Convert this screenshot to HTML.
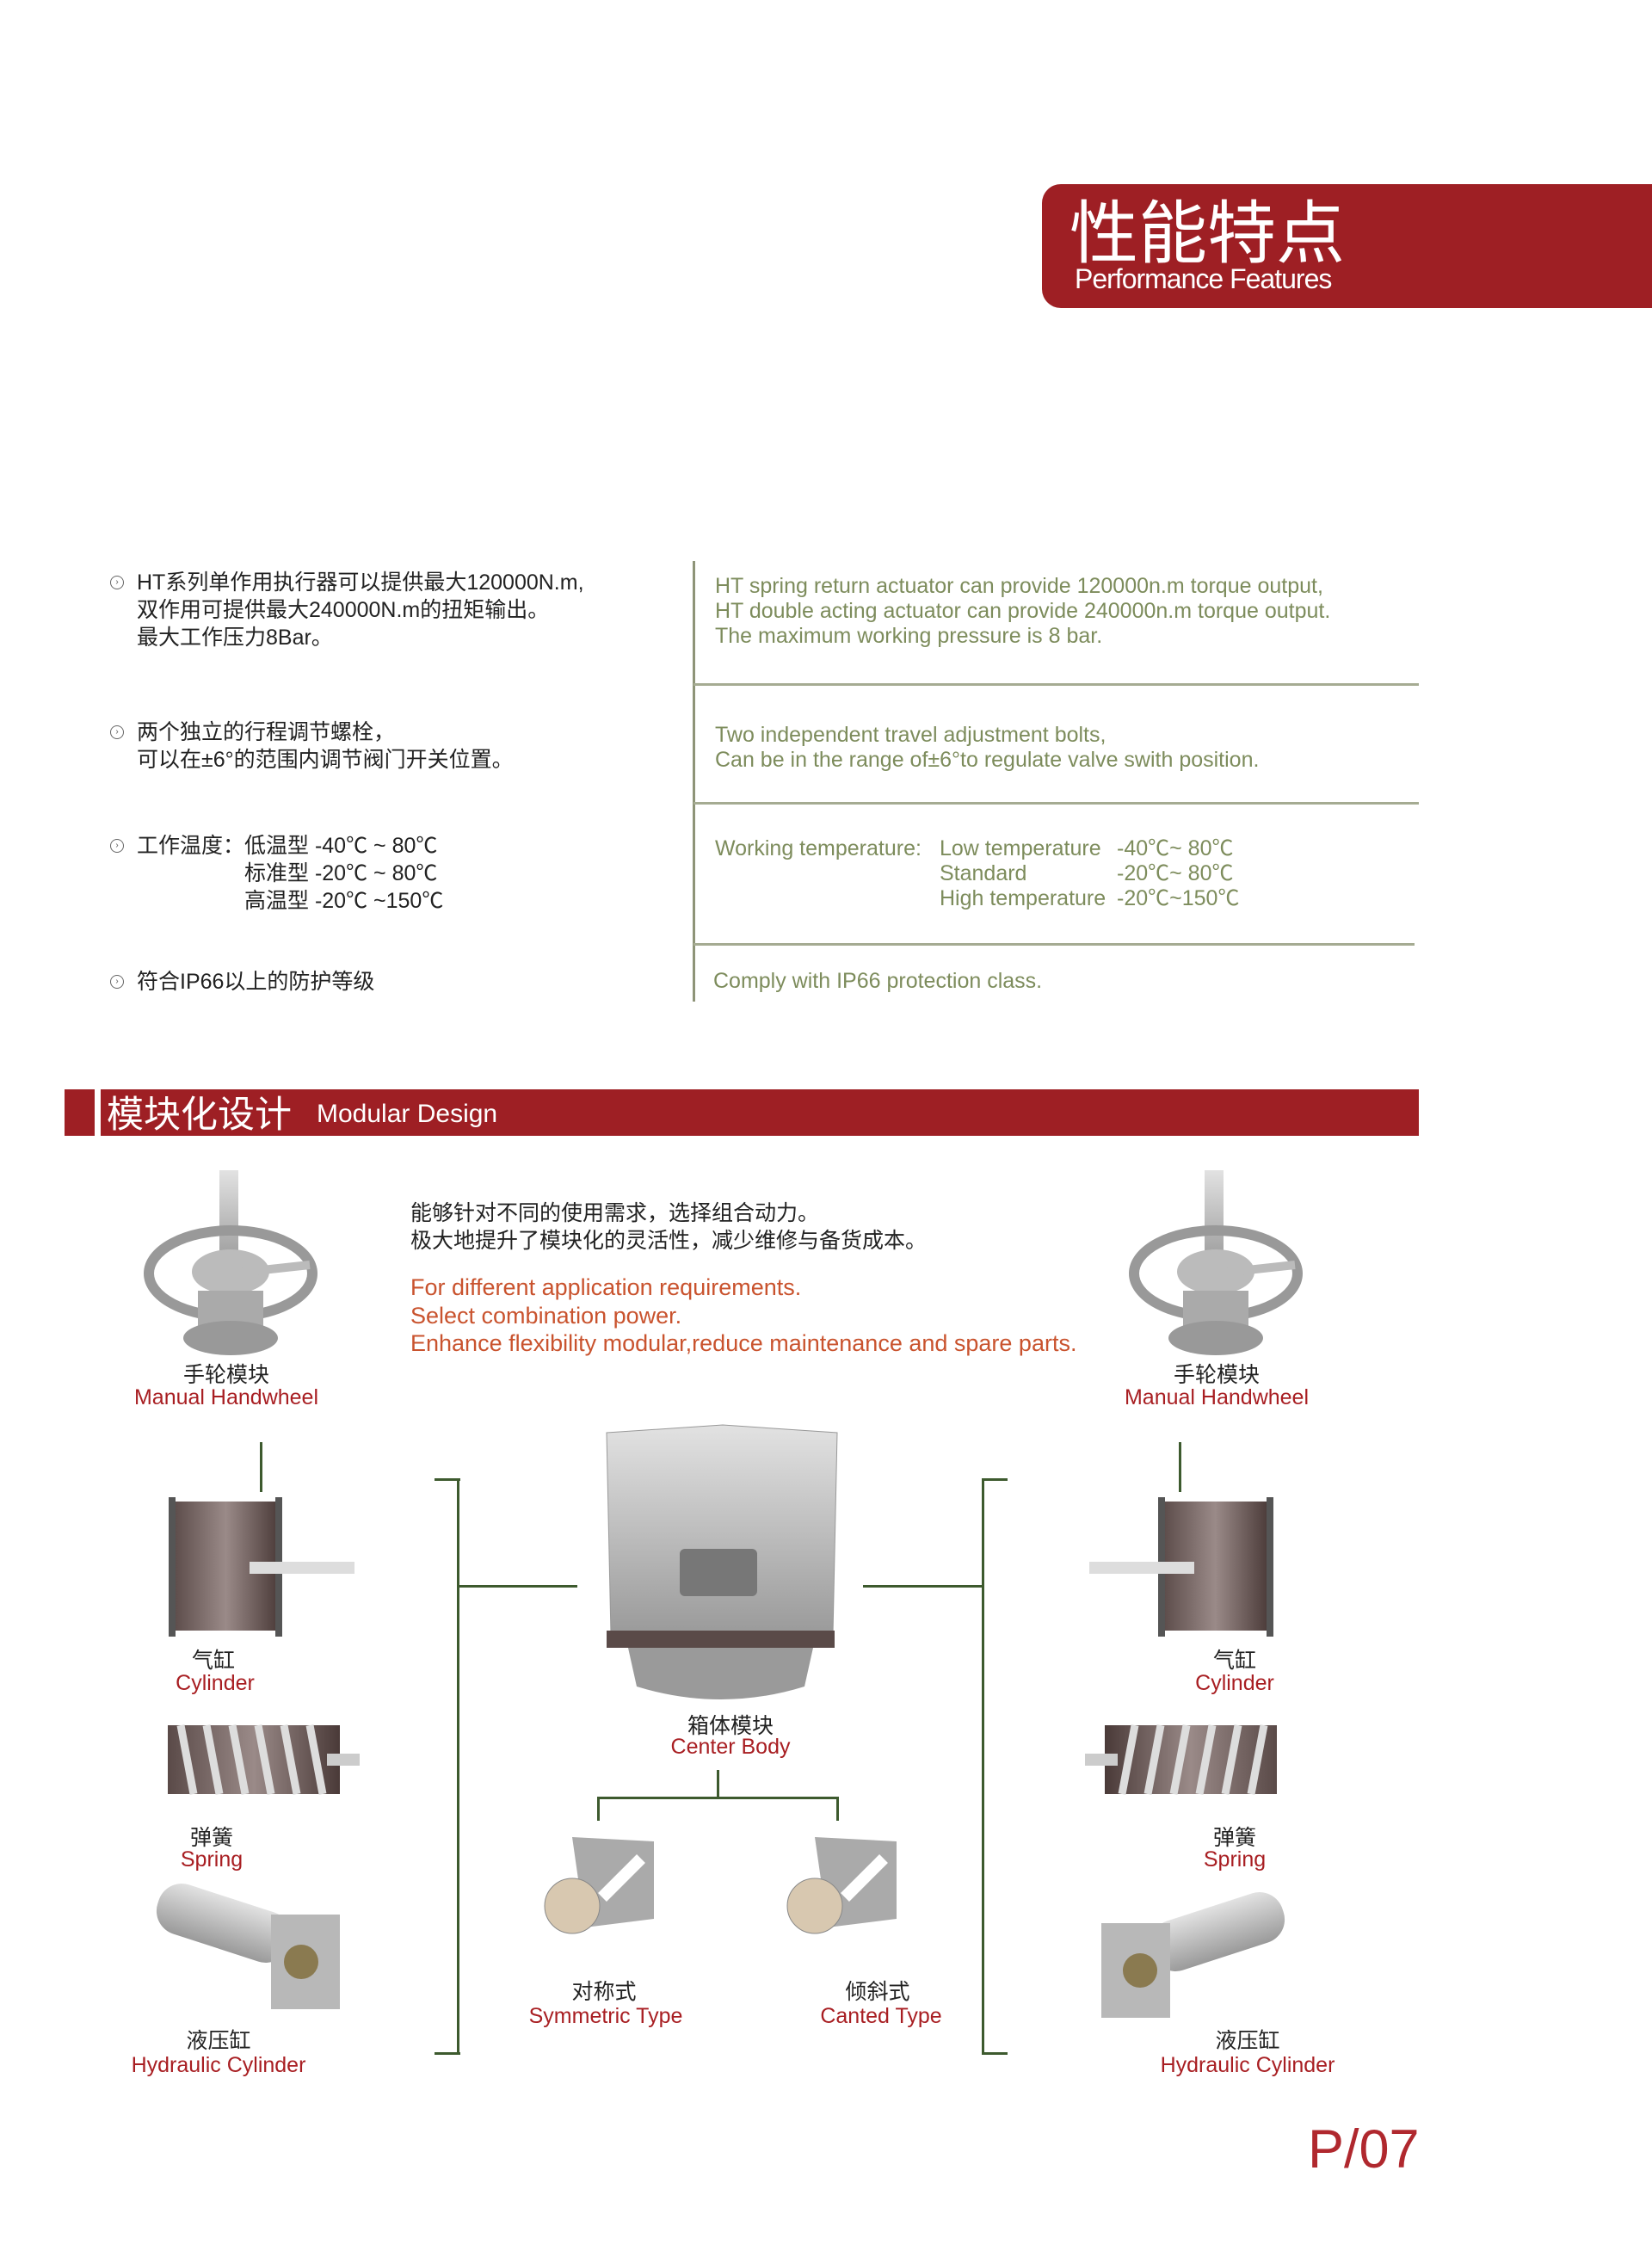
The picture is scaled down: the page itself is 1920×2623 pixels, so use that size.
<!DOCTYPE html>
<html><head><meta charset="utf-8">
<style>
*{margin:0;padding:0;box-sizing:border-box}
body{width:1920px;height:2623px;background:#fff;position:relative;overflow:hidden;font-family:"Liberation Sans","Noto Sans CJK SC",sans-serif}
.a{position:absolute;white-space:nowrap}
.cn{color:#222;font-size:25px;line-height:32px}
.en{color:#7d8c5c;font-size:25px;line-height:29px}
.lbc{color:#222;font-size:25px;text-align:center;transform:translateX(-50%)}
.lbe{color:#a81e22;font-size:25px;text-align:center;transform:translateX(-50%)}
.bul{width:16px;height:16px;border:1.5px solid #666;border-radius:50%;font-size:10px;line-height:13px;text-align:center;color:#555}
.sep{position:absolute;left:806px;width:843px;height:3px;background:#a5ab92}
.g{position:absolute;background:#3d5a2e}
</style></head><body>

<div class="a" style="left:1211px;top:214px;width:709px;height:144px;background:#9e1f24;border-radius:22px 0 0 22px"></div>
<div class="a" style="left:1243px;top:220px;color:#fff;font-size:80px;line-height:90px;font-family:'Noto Sans CJK SC',sans-serif">性能特点</div>
<div class="a" style="left:1249px;top:306px;color:#fff;font-size:32px;letter-spacing:-1px">Performance Features</div>

<div class="a bul" style="left:128px;top:669px">›</div>
<div class="a cn" style="left:159px;top:661px">HT系列单作用执行器可以提供最大120000N.m,<br>双作用可提供最大240000N.m的扭矩输出。<br>最大工作压力8Bar。</div>
<div class="a bul" style="left:128px;top:843px">›</div>
<div class="a cn" style="left:159px;top:835px">两个独立的行程调节螺栓，<br>可以在±6°的范围内调节阀门开关位置。</div>
<div class="a bul" style="left:128px;top:975px">›</div>
<div class="a cn" style="left:159px;top:967px">工作温度：低温型 -40℃ ~ 80℃</div>
<div class="a cn" style="left:284px;top:999px">标准型 -20℃ ~ 80℃<br>高温型 -20℃ ~150℃</div>
<div class="a bul" style="left:128px;top:1133px">›</div>
<div class="a cn" style="left:159px;top:1125px">符合IP66以上的防护等级</div>

<div class="a" style="left:805px;top:652px;width:3px;height:512px;background:#8e9478"></div>
<div class="sep" style="top:794px"></div>
<div class="sep" style="top:932px"></div>
<div class="sep" style="top:1096px;width:838px"></div>

<div class="a en" style="left:831px;top:667px">HT spring return actuator can provide 120000n.m torque output,<br>HT double acting actuator can provide 240000n.m torque output.<br>The maximum working pressure is 8 bar.</div>
<div class="a en" style="left:831px;top:840px">Two independent travel adjustment bolts,<br>Can be in the range of±6°to regulate valve swith position.</div>
<div class="a en" style="left:831px;top:972px">Working temperature:</div>
<div class="a en" style="left:1092px;top:972px">Low temperature<br>Standard<br>High temperature</div>
<div class="a en" style="left:1298px;top:972px">-40℃~ 80℃<br>-20℃~ 80℃<br>-20℃~150℃</div>
<div class="a en" style="left:829px;top:1126px">Comply with IP66 protection class.</div>

<div class="a" style="left:75px;top:1266px;width:35px;height:54px;background:#9e1f24"></div>
<div class="a" style="left:117px;top:1266px;width:1532px;height:54px;background:#9e1f24"></div>
<div class="a" style="left:124px;top:1263px;color:#fff;font-size:43px;line-height:58px;font-family:'Noto Sans CJK SC',sans-serif">模块化设计</div>
<div class="a" style="left:368px;top:1278px;color:#fff;font-size:30px;line-height:34px">Modular Design</div>

<div class="a cn" style="left:477px;top:1394px">能够针对不同的使用需求，选择组合动力。<br>极大地提升了模块化的灵活性，减少维修与备货成本。</div>
<div class="a" style="left:477px;top:1480px;color:#c9532e;font-size:27px;line-height:32.5px">For different application requirements.<br>Select combination power.<br>Enhance flexibility modular,reduce maintenance and spare parts.</div>

<div class="g" style="left:302px;top:1676px;width:3px;height:58px"></div>
<div class="g" style="left:1370px;top:1676px;width:3px;height:58px"></div>
<div class="g" style="left:505px;top:1718px;width:30px;height:3px"></div>
<div class="g" style="left:531px;top:1718px;width:3px;height:670px"></div>
<div class="g" style="left:505px;top:2385px;width:30px;height:3px"></div>
<div class="g" style="left:531px;top:1842px;width:140px;height:3px"></div>
<div class="g" style="left:1141px;top:1718px;width:30px;height:3px"></div>
<div class="g" style="left:1141px;top:1718px;width:3px;height:670px"></div>
<div class="g" style="left:1141px;top:2385px;width:30px;height:3px"></div>
<div class="g" style="left:1003px;top:1842px;width:140px;height:3px"></div>
<div class="g" style="left:833px;top:2057px;width:3px;height:34px"></div>
<div class="g" style="left:694px;top:2088px;width:281px;height:3px"></div>
<div class="g" style="left:694px;top:2088px;width:3px;height:28px"></div>
<div class="g" style="left:972px;top:2088px;width:3px;height:28px"></div>

<svg class="a" style="left:0;top:0" width="1920" height="2623">
<defs>
<linearGradient id="m" x1="0" x2="0" y1="0" y2="1"><stop offset="0" stop-color="#e2e2e2"/><stop offset="1" stop-color="#9a9a9a"/></linearGradient>
<linearGradient id="d" x1="0" x2="1"><stop offset="0" stop-color="#5a4a48"/><stop offset=".5" stop-color="#9a8a88"/><stop offset="1" stop-color="#4a3a38"/></linearGradient>
</defs>
<g id="hw">
<rect x="255" y="1360" width="22" height="110" fill="url(#m)"/>
<ellipse cx="268" cy="1480" rx="95" ry="50" fill="none" stroke="#999" stroke-width="12"/>
<ellipse cx="268" cy="1478" rx="45" ry="26" fill="#bbb"/>
<rect x="230" y="1500" width="76" height="50" fill="#aaa"/>
<ellipse cx="268" cy="1555" rx="55" ry="20" fill="#999"/>
<line x1="268" y1="1480" x2="360" y2="1470" stroke="#bbb" stroke-width="10"/>
</g>
<use href="#hw" transform="translate(1145,0)"/>
<rect x="200" y="1745" width="125" height="150" fill="url(#d)"/>
<rect x="196" y="1740" width="8" height="162" fill="#555"/><rect x="320" y="1740" width="8" height="162" fill="#555"/>
<rect x="290" y="1815" width="122" height="14" fill="#ddd"/>
<rect x="1350" y="1745" width="125" height="150" fill="url(#d)"/>
<rect x="1346" y="1740" width="8" height="162" fill="#555"/><rect x="1472" y="1740" width="8" height="162" fill="#555"/>
<rect x="1266" y="1815" width="122" height="14" fill="#ddd"/>
<g id="sp"><rect x="195" y="2005" width="200" height="80" fill="url(#d)"/>
<rect x="380" y="2038" width="38" height="14" fill="#ccc"/>
<g stroke="#ddd" stroke-width="9"><line x1="210" y1="2005" x2="225" y2="2085"/><line x1="240" y1="2005" x2="255" y2="2085"/><line x1="270" y1="2005" x2="285" y2="2085"/><line x1="300" y1="2005" x2="315" y2="2085"/><line x1="330" y1="2005" x2="345" y2="2085"/><line x1="360" y1="2005" x2="375" y2="2085"/></g></g>
<use href="#sp" transform="translate(1679,0) scale(-1,1)"/>
<g id="hy"><rect x="180" y="2205" width="160" height="60" rx="28" fill="url(#m)" transform="rotate(18 260 2235)"/>
<rect x="315" y="2225" width="80" height="110" fill="#b8b8b8"/>
<circle cx="350" cy="2280" r="20" fill="#8a7a50"/></g>
<use href="#hy" transform="translate(1675,10) scale(-1,1)"/>
<path d="M705 1665 L840 1656 L973 1665 L968 1900 L710 1900 Z" fill="url(#m)" stroke="#999"/>
<rect x="790" y="1800" width="90" height="55" rx="6" fill="#777"/>
<rect x="705" y="1895" width="265" height="20" fill="#5a4a48"/>
<path d="M730 1915 L945 1915 L935 1960 Q838 1990 740 1960 Z" fill="#9a9a9a"/>
<g id="ind"><path d="M665 2135 L760 2140 L760 2230 L680 2240 Z" fill="#aaa"/>
<circle cx="665" cy="2215" r="32" fill="#d8c8b0" stroke="#888"/>
<line x1="700" y1="2205" x2="745" y2="2160" stroke="#fff" stroke-width="14"/></g>
<use href="#ind" transform="translate(282,0)"/>
</svg>

<div class="a lbc" style="left:263px;top:1578px">手轮模块</div>
<div class="a lbe" style="left:263px;top:1610px">Manual Handwheel</div>
<div class="a lbc" style="left:1414px;top:1578px">手轮模块</div>
<div class="a lbe" style="left:1414px;top:1610px">Manual Handwheel</div>
<div class="a lbc" style="left:248px;top:1910px">气缸</div>
<div class="a lbe" style="left:250px;top:1942px">Cylinder</div>
<div class="a lbc" style="left:1435px;top:1910px">气缸</div>
<div class="a lbe" style="left:1435px;top:1942px">Cylinder</div>
<div class="a lbc" style="left:246px;top:2116px">弹簧</div>
<div class="a lbe" style="left:246px;top:2147px">Spring</div>
<div class="a lbc" style="left:1435px;top:2116px">弹簧</div>
<div class="a lbe" style="left:1435px;top:2147px">Spring</div>
<div class="a lbc" style="left:254px;top:2352px">液压缸</div>
<div class="a lbe" style="left:254px;top:2386px">Hydraulic Cylinder</div>
<div class="a lbc" style="left:1450px;top:2352px">液压缸</div>
<div class="a lbe" style="left:1450px;top:2386px">Hydraulic Cylinder</div>
<div class="a lbc" style="left:849px;top:1986px">箱体模块</div>
<div class="a lbe" style="left:849px;top:2016px">Center Body</div>
<div class="a lbc" style="left:702px;top:2295px">对称式</div>
<div class="a lbe" style="left:704px;top:2329px">Symmetric Type</div>
<div class="a lbc" style="left:1020px;top:2295px">倾斜式</div>
<div class="a lbe" style="left:1024px;top:2329px">Canted Type</div>

<div class="a" style="left:1520px;top:2462px;color:#b0282e;font-size:63px;line-height:72px">P/07</div>
</body></html>
